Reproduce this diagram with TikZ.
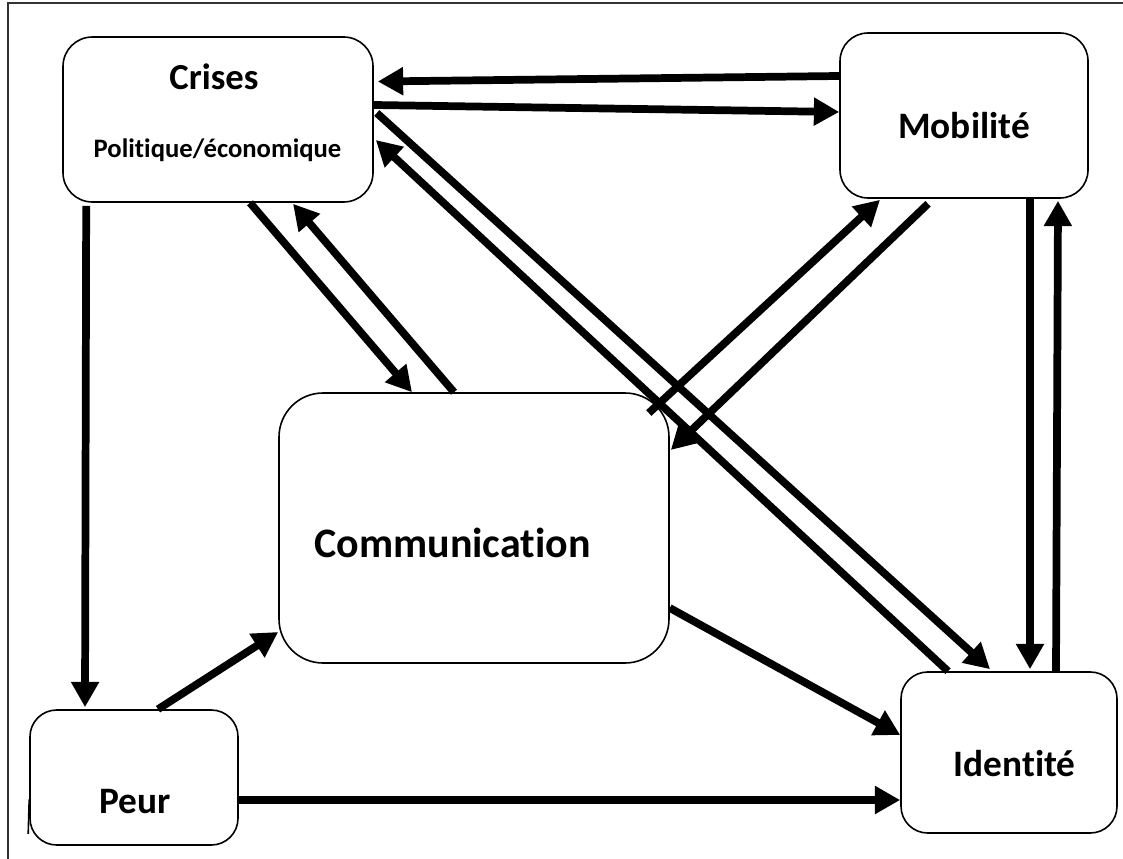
\documentclass[tikz,border=0pt]{standalone}
\usepackage{fontspec}
\setmainfont{Carlito}[Ligatures=NoCommon]
\usetikzlibrary{arrows.meta,calc}
\begin{document}
\begin{tikzpicture}[x=0.75pt,y=-0.75pt,
  box/.style={draw, line width=1.2pt, inner sep=0pt},
  arr/.style={line width=5.8pt, -{Triangle[length=19pt,width=20pt]}},
  lbl/.style={inner sep=0pt, anchor=base, font=\bfseries}]
\useasboundingbox (0,0) rectangle (1123,859);
% frame
\draw[line width=1.5pt, black!80] (8,859) -- (8,3) -- (1123,3);
% boxes
\node[box, rounded corners=22pt, minimum width=232.5pt, minimum height=123.75pt] (crises) at (218,119.5) {};
\node[box, rounded corners=21pt, minimum width=186pt, minimum height=123.75pt] (mob) at (964,115.5) {};
\node[box, rounded corners=33pt, minimum width=292.5pt, minimum height=202.5pt] (comm) at (474,528) {};
\node[box, rounded corners=20pt, minimum width=156pt, minimum height=101.25pt] (peur) at (134,777.5) {};
\node[box, rounded corners=20pt, minimum width=162pt, minimum height=120.75pt] (ident) at (1009,752.5) {};
% labels
\node[lbl, font=\bfseries\fontsize{27.5}{32}\selectfont] (crisesT) at (214,90) {Crises};
\node[lbl, font=\bfseries\fontsize{20}{24}\selectfont] (crisesS) at (217.5,158) {Politique/économique};
\node[lbl, font=\bfseries\fontsize{28}{33}\selectfont] (mobT) at (964,139) {Mobilité};
\node[lbl, font=\bfseries\fontsize{31.5}{36}\selectfont] (commT) at (452.5,557) {Communication};
\node[lbl, font=\bfseries\fontsize{28}{33}\selectfont] (peurT) at (134.7,813) {Peur};
\node[lbl, font=\bfseries\fontsize{28}{33}\selectfont] (identT) at (1014.7,776) {Identité};
% small stroke on Peur
\draw[line width=1.2pt] ($(peur.south west)+(-1,-12)$) -- ($(peur.west)+(0,22)$);
% connectors
\draw[arr] ($(mob.west)+(0,-39.5)$) -- ($(crises.east)+(4,-38)$);
\draw[arr] ($(crises.east)+(0,-14.5)$) -- ($(mob.west)+(0,-3.5)$);
\draw[arr] ($(crises.east)+(3,-6.5)$) -- ($(ident.north)+(-19,-2)$);
\draw[arr] ($(ident.north)+(-61,0)$) -- ($(crises.east)+(2,20.5)$);
\draw[arr] ($(crises.south)+(32,0)$) -- ($(comm.north)+(-62,0)$);
\draw[arr] ($(comm.north)+(-20,0)$) -- ($(crises.south)+(75,1)$);
\draw[arr] ($(comm.east)+(-21,-115)$) -- ($(mob.south)+(-84,1)$);
\draw[arr] ($(mob.south)+(-36,5)$) -- ($(comm.east)+(1,-78)$);
\draw[arr] ($(mob.south)+(66,0)$) -- ($(ident.north)+(21,-2)$);
\draw[arr] ($(ident.north)+(47,0)$) -- ($(mob.south)+(94,2)$);
\draw[arr] ($(crises.south west)+(24,3)$) -- ($(peur.north)+(-49,-2)$);
\draw[arr] ($(peur.north)+(24,0)$) -- ($(comm.west)+(0,104)$);
\draw[arr] ($(peur.east)+(0,22.5)$) -- ($(ident.west)+(0,47.5)$);
\draw[arr] ($(comm.east)+(0,80)$) -- ($(ident.west)+(0,-17.5)$);
\end{tikzpicture}
\end{document}
